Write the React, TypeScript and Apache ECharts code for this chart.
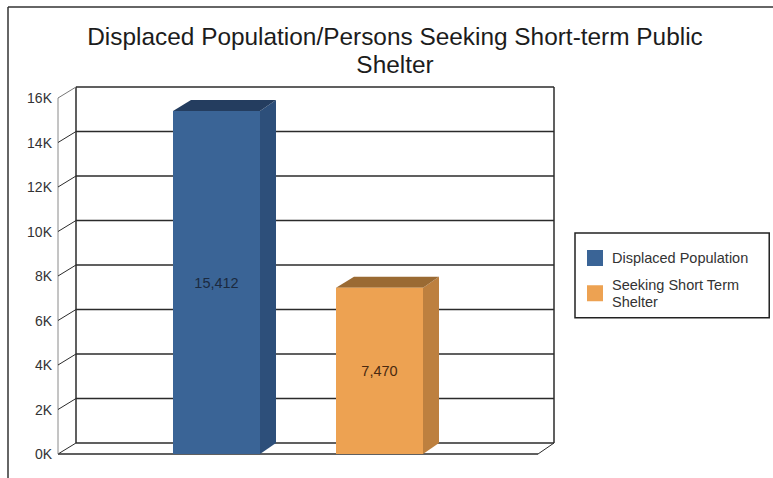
import React, { useEffect, useRef } from "react";
import * as echarts from "echarts";

const chartTitle = "Displaced Population/Persons Seeking Short-term Public\nShelter";
const categories = [""];
const displacedName = "Displaced Population";
const shelterName = "Seeking Short Term\nShelter";
const displacedValues = [15412];
const shelterValues = [7470];
const gridTicks = [0, 2000, 4000, 6000, 8000, 10000, 12000, 14000, 16000];

const DX = 18;
const DY = -11;
const BAR_W = 87;
const BAR_STEP = 163;
const LINE = "#2b2b2b";
const FONT = "'Liberation Sans', Arial, sans-serif";

const fmt = (v: number) => v.toLocaleString("en-US");

function wallItem(params: any, api: any) {
  const v = api.value(1);
  const p = api.coord([0, v]);
  const band = api.size([1, 0])[0];
  const x0 = p[0] - band / 2;
  const x1 = x0 + band;
  const y = p[1];
  const isTop = v === 16000;
  const isFloor = v === 0;
  const children: any[] = [
    {
      type: "line",
      shape: { x1: x0 + DX, y1: y + DY, x2: x1 + DX - 2, y2: y + DY },
      style: { stroke: LINE, lineWidth: 1.5 },
    },
    {
      type: "line",
      shape: { x1: x0, y1: y, x2: x0 + DX, y2: y + DY },
      style: { stroke: isTop ? "#777" : LINE, lineWidth: 1 },
    },
  ];
  if (isFloor) {
    const top = api.coord([0, 16000])[1];
    children.push(
      { type: "line", shape: { x1: x0, y1: y, x2: x1, y2: y }, style: { stroke: LINE, lineWidth: 1.5 } },
      { type: "line", shape: { x1: x1, y1: y, x2: x1 + DX - 2, y2: y + DY }, style: { stroke: LINE, lineWidth: 1 } },
      { type: "line", shape: { x1: x0, y1: y, x2: x0, y2: top }, style: { stroke: "#8a8a8a", lineWidth: 1 } },
      { type: "line", shape: { x1: x0 + DX, y1: y + DY, x2: x0 + DX, y2: top + DY }, style: { stroke: LINE, lineWidth: 1.5 } },
      { type: "line", shape: { x1: x1 + DX - 2, y1: y + DY, x2: x1 + DX - 2, y2: top + DY }, style: { stroke: LINE, lineWidth: 1.5 } },
    );
  }
  return { type: "group", children };
}

function barItem(offset: number, face: string, top: string, side: string, text: string) {
  return (params: any, api: any) => {
    const v = api.value(1);
    const p = api.coord([0, v]);
    const base = api.coord([0, 0]);
    const x = p[0] + offset - BAR_W / 2;
    const y = p[1];
    const r = x + BAR_W;
    return {
      type: "group",
      children: [
        {
          type: "polygon",
          shape: { points: [[r, y], [r + DX - 2, y + DY], [r + DX - 2, base[1] + DY], [r, base[1]]] },
          style: { fill: side },
        },
        {
          type: "polygon",
          shape: { points: [[x, y], [x + DX, y + DY], [r + DX - 2, y + DY], [r, y]] },
          style: { fill: top },
        },
        { type: "rect", shape: { x, y, width: BAR_W, height: base[1] - y }, style: { fill: face } },
        {
          type: "text",
          style: {
            x: x + BAR_W / 2,
            y: (y + base[1]) / 2,
            text: fmt(v),
            fill: text,
            font: `14.5px ${FONT}`,
            align: "center",
            verticalAlign: "middle",
          },
        },
      ],
    };
  };
}

export default function App() {
  const ref = useRef<HTMLDivElement>(null);
  useEffect(() => {
    document.body.style.margin = "0";
    const chart = echarts.init(ref.current!, undefined, { renderer: "svg" });
    chart.setOption({
      animation: false,
      backgroundColor: "#ffffff",
      textStyle: { fontFamily: FONT },
      title: {
        text: chartTitle,
        left: 390,
        top: 17,
        textAlign: "center",
        textStyle: { fontFamily: FONT, fontSize: 24.4, fontWeight: "normal", color: "#1c1c1c", lineHeight: 28 },
      },
      grid: { left: 58, top: 98, width: 480, height: 356 },
      xAxis: {
        type: "category",
        data: categories,
        axisLine: { show: false },
        axisTick: { show: false },
        axisLabel: { show: false },
      },
      yAxis: {
        type: "value",
        min: 0,
        max: 16000,
        interval: 2000,
        axisLine: { show: false },
        axisTick: { show: false },
        splitLine: { show: false },
        axisLabel: {
          margin: 6,
          fontSize: 14,
          fontFamily: FONT,
          color: "#333333",
          formatter: (v: number) => `${v / 1000}K`,
        },
      },
      legend: {
        left: 575,
        top: 233,
        orient: "vertical",
        icon: "rect",
        data: [displacedName, shelterName],
        itemWidth: 16,
        itemHeight: 16,
        itemGap: 10.5,
        padding: [16.75, 21, 8, 12],
        borderColor: "#222222",
        borderWidth: 1.5,
        backgroundColor: "#ffffff",
        textStyle: { fontFamily: FONT, fontSize: 14.5, color: "#333333", lineHeight: 16.5, padding: [0, 0, 0, 4] },
      },
      series: [
        {
          type: "custom",
          name: "wall",
          renderItem: wallItem,
          data: gridTicks.map((t) => [0, t]),
          clip: false,
          z: 1,
          silent: true,
        },
        {
          type: "custom",
          name: displacedName,
          renderItem: barItem(-BAR_STEP / 2, "#3a6496", "#243d5f", "#2d4f7a", "#1b2a40"),
          data: displacedValues.map((v, i) => [i, v]),
          itemStyle: { color: "#3a6496" },
          clip: false,
          z: 2,
        },
        {
          type: "custom",
          name: shelterName,
          renderItem: barItem(BAR_STEP / 2, "#eda252", "#9a6a33", "#bd803f", "#4a2a10"),
          data: shelterValues.map((v, i) => [i, v]),
          itemStyle: { color: "#eda252" },
          clip: false,
          z: 2,
        },
      ],
      graphic: [
        { type: "line", z: 10, shape: { x1: 8, y1: 7, x2: 8, y2: 478 }, style: { stroke: "#333", lineWidth: 1.5 } },
        { type: "line", z: 10, shape: { x1: 8, y1: 7, x2: 773, y2: 7 }, style: { stroke: "#333", lineWidth: 1.5 } },
      ],
    });
    return () => chart.dispose();
  }, []);
  return <div ref={ref} style={{ position: "absolute", left: 0, top: 0, width: 773, height: 478 }} />;
}
